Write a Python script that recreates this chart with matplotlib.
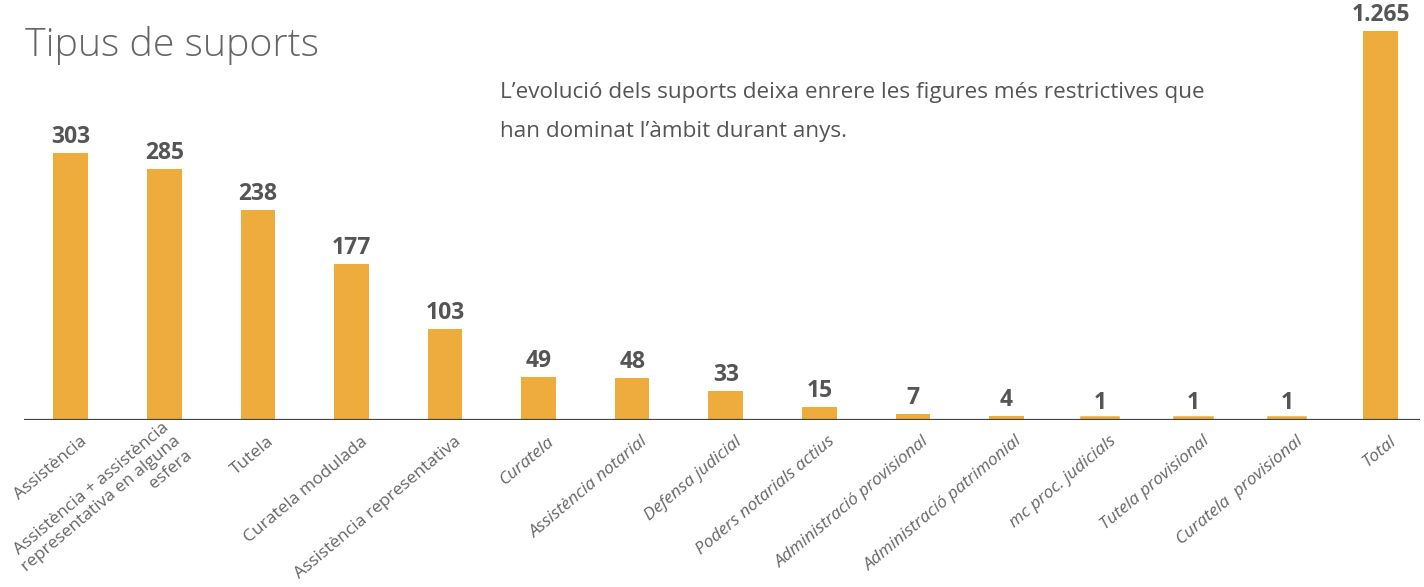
import numpy as np
import matplotlib
matplotlib.use('Agg')
import matplotlib.pyplot as plt
from matplotlib.transforms import ScaledTranslation

# dades
categories = ['Assistència', 'Assistència + assistència\nrepresentativa en alguna\nesfera', 'Tutela',
              'Curatela modulada', 'Assistència representativa', 'Curatela', 'Assistència notarial',
              'Defensa judicial', 'Poders notarials actius', 'Administració provisional',
              'Administració patrimonial', 'mc proc. judicials', 'Tutela provisional',
              'Curatela  provisional', 'Total']
valors = [303, 285, 238, 177, 103, 49, 48, 33, 15, 7, 4, 1, 1, 1, 1265]
etiquetes = ['303', '285', '238', '177', '103', '49', '48', '33', '15', '7', '4', '1', '1', '1', '1.265']
cursiva = [False] * 5 + [True] * 10

color_barra = '#EEAC3C'
gris = '#555555'

# escala trencada: lineal fins a 320, comprimida per sobre (la barra Total)
TALL = 320.0
K = 0.1286


def endavant(y):
    y = np.asarray(y, dtype=float)
    return np.where(y <= TALL, y, TALL + (y - TALL) * K)


def enrere(y):
    y = np.asarray(y, dtype=float)
    return np.where(y <= TALL, y, TALL + (y - TALL) / K)


fig = plt.figure(figsize=(14.24, 5.87), dpi=100)
ax = fig.add_axes([24 / 1424, 1 - 420 / 587, 1396 / 1424, 420 / 587])
ax.set_yscale('function', functions=(endavant, enrere))

x = np.arange(len(valors))
ax.bar(x, valors, width=0.37, color=color_barra, edgecolor=color_barra,
       linewidth=[4 if v < 3 else 0 for v in valors], zorder=2)
ax.axhline(0, color='#444444', linewidth=1.6, zorder=3)

for xi, v, t in zip(x, valors, etiquetes):
    ax.annotate(t, (xi, v), xytext=(0, 3), textcoords='offset points', ha='center', va='bottom',
                fontsize=16.5, fontweight='bold', color=gris, family='Open Sans')

ax.set_xlim(-0.5, 14.42)
ax.set_ylim(0, 1538)
ax.set_yticks([])
for s in ax.spines.values():
    s.set_visible(False)

ax.set_xticks(x)
ax.set_xticklabels(categories, rotation=40, ha='right', va='center', rotation_mode='anchor',
                   fontsize=12.5, color='#666666', family='Open Sans', multialignment='right')
ax.tick_params(axis='x', length=0, pad=14)
for lab, it in zip(ax.get_xticklabels(), cursiva):
    if it:
        lab.set_style('italic')
    lab.set_transform(lab.get_transform() + ScaledTranslation(10 / 72, 0, fig.dpi_scale_trans))

fig.text(25 / 1424, 1 - 56 / 587, 'Tipus de suports', fontsize=28.3, fontweight='light',
         family='Open Sans', color='#666666', va='baseline')
fig.text(500 / 1424, 1 - 82 / 587,
         'L\u2019evolució dels suports deixa enrere les figures més restrictives que\nhan dominat l\u2019àmbit durant anys.',
         fontsize=16.2, family='Open Sans', color='#555555', va='top', linespacing=2.1)

fig.savefig('out.png', dpi=100)
